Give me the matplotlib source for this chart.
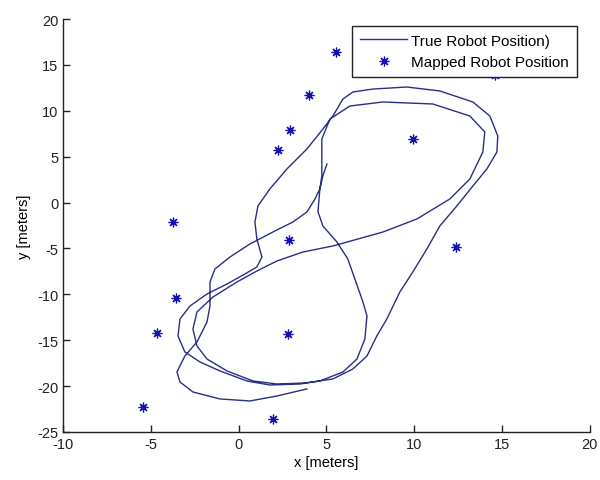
import matplotlib
matplotlib.use("Agg")
import matplotlib.pyplot as plt

plt.rcParams['font.family'] = ['Liberation Sans', 'DejaVu Sans']
plt.rcParams['axes.unicode_minus'] = False

# True robot trajectory (meters)
path_x = [5.03, 4.80, 4.63, 4.52, 4.80, 5.60, 6.22, 6.62, 7.08, 7.31, 7.19, 6.74, 5.94, 4.63, 3.49,
          1.78, 0.47, -1.06, -2.20, -3.06, -3.45, -3.34, -2.77, -1.80, -0.66, 0.36, 1.04, 1.33,
          1.04, 0.93, 1.10, 1.78, 2.75, 3.89, 4.80, 5.37, 5.94, 6.51, 7.65, 9.58, 11.46, 13.34,
          14.31, 14.76, 14.71, 14.14, 13.34, 12.43, 11.46, 10.72, 9.92, 9.18, 8.44, 7.87, 7.31,
          6.51, 5.37, 3.78,
          2.18, 0.82, -0.66, -1.80, -2.37, -2.60, -2.37, -1.46, -0.10, 1.04, 2.18, 3.66, 5.37,
          8.22, 10.15, 12.03, 13.17, 13.91, 14.02, 13.17, 11.06, 8.22, 6.34, 5.20, 4.74, 4.74,
          4.74, 4.63,
          4.35, 3.89, 3.09, 1.95, 0.64, -0.49, -1.35, -1.63, -1.63, -1.80, -2.37, -3.06, -3.51,
          -3.34, -2.60, -1.06, 0.64, 2.18, 3.89]
path_y = [4.20, 2.90, 1.50, -1.00, -2.55, -4.30, -6.15, -8.33, -10.83, -12.36, -14.87, -17.05, -18.46,
          -19.44, -19.77,
          -19.88, -19.44, -18.35, -17.37, -16.28, -14.54, -12.69, -11.27, -9.96, -8.87, -7.78, -7.02,
          -5.93,
          -3.97, -2.12, -0.37, 1.48, 3.66, 5.84, 8.01, 9.43, 11.28, 12.05, 12.37, 12.59, 12.16, 10.96,
          9.43, 7.25, 5.51, 3.66, 1.80, -0.37, -2.55, -5.06, -7.57, -9.75, -12.69, -14.54, -16.72,
          -18.13, -19.22, -19.66,
          -19.77, -19.44, -18.35, -17.05, -15.63, -13.78, -11.92, -10.29, -8.66, -7.46, -6.37, -5.39,
          -4.73, -3.21, -1.79, 0.39, 2.57, 5.51, 7.69, 9.43, 10.74, 10.96, 10.52, 9.10, 6.93, 4.75,
          2.90, 1.50,
          0.39, -1.03, -2.12, -3.21, -4.52, -5.93, -7.24, -8.66, -11.27, -13.01, -15.19, -16.72, -18.46,
          -19.55, -20.64, -21.40, -21.62, -21.08, -20.31]

# Mapped robot positions (meters)
mapped_x = [5.54, 4.02, 2.92, 2.22, 9.91, -3.72, 2.85, 12.37, -3.59, -4.67, 2.79, -5.43, 1.97, 14.59]
mapped_y = [16.44, 11.75, 7.90, 5.70, 6.93, -2.15, -4.05, -4.81, -10.40, -14.21, -14.32, -22.31, -23.58, 13.85]

x_ticks = [-10, -5, 0, 5, 10, 15, 20]
y_ticks = [-25, -20, -15, -10, -5, 0, 5, 10, 15, 20]

fig = plt.figure(figsize=(6.0, 4.81), dpi=100)
ax = fig.add_axes([0.105, 0.0998, 0.878, 0.8586])

ax.plot(path_x, path_y, color='#2a2e86', linewidth=1.0, label='True Robot Position)')
ax.plot(mapped_x, mapped_y, linestyle='none', marker=(8, 2, 0), markersize=7,
        markeredgewidth=0.9, color='#1212b4', label='Mapped Robot Position')

ax.set_xlim(-10, 20)
ax.set_ylim(-25, 20)
ax.set_xticks(x_ticks)
ax.set_yticks(y_ticks)
ax.tick_params(direction='in', length=5, width=1, labelsize=10.5, colors='#222222')
for s in ['top', 'right']:
    ax.spines[s].set_visible(False)
for s in ['left', 'bottom']:
    ax.spines[s].set_linewidth(1.0)
    ax.spines[s].set_color('#222222')

ax.set_xlabel('x [meters]', fontsize=10.5, labelpad=3)
ax.set_ylabel('y [meters]', fontsize=10.5, labelpad=4)

leg = ax.legend(loc='upper right', bbox_to_anchor=(0.975, 0.983), fontsize=11,
                fancybox=False, framealpha=1, edgecolor='#222222', handlelength=3.1,
                handletextpad=0.25, borderpad=0.5, labelspacing=0.5, borderaxespad=0)
leg.get_frame().set_linewidth(1.0)
leg.set_zorder(5)

fig.savefig('out.png', dpi=100)
